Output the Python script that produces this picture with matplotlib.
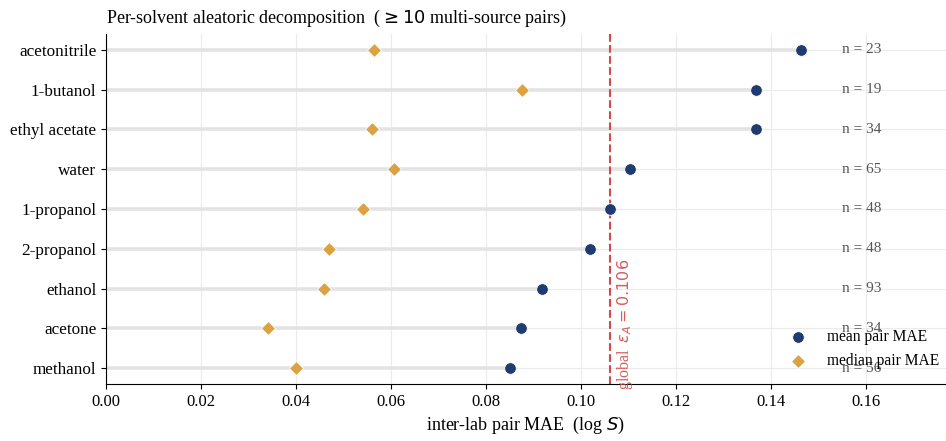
import matplotlib
matplotlib.use("Agg")
import matplotlib.pyplot as plt
import matplotlib.transforms as mtransforms

plt.rcParams["font.family"] = ["Liberation Serif", "DejaVu Serif"]
plt.rcParams["mathtext.fontset"] = "dejavusans"

# data (top to bottom)
solvents = ["acetonitrile", "1-butanol", "ethyl acetate", "water", "1-propanol",
            "2-propanol", "ethanol", "acetone", "methanol"]
mean_mae = [0.1463, 0.1368, 0.1368, 0.1103, 0.1061, 0.1019, 0.0918, 0.0874, 0.0851]
median_mae = [0.0564, 0.0876, 0.0560, 0.0606, 0.0541, 0.0469, 0.0459, 0.0341, 0.0400]
n_pairs = [23, 19, 34, 65, 48, 48, 93, 34, 56]
global_eps = 0.106

navy = "#1f3b70"
gold = "#dba243"
red = "#d24a4a"

fig = plt.figure(figsize=(9.46, 4.41), dpi=100)
ax = fig.add_axes([106 / 946, 57 / 441, 840 / 946, 350 / 441])

ypos = list(range(len(solvents)))[::-1]

# stems from zero to the mean
ax.hlines(ypos, 0, mean_mae, color="#e3e3e3", lw=2.6, zorder=1)
ax.scatter(mean_mae, ypos, s=70, color=navy, marker="o", edgecolor="white",
           linewidth=0.6, zorder=3, label="mean pair MAE")
ax.scatter(median_mae, ypos, s=50, color=gold, marker="D", edgecolor="white",
           linewidth=0.6, zorder=3, label="median pair MAE")

ax.axvline(global_eps, color=red, ls="--", lw=1.5, zorder=2)
ax.text(global_eps + 0.0012, -0.55, r"global  $\varepsilon_A = 0.106$", rotation=90,
        color=red, fontsize=11.5, ha="left", va="bottom", alpha=0.9, clip_on=False)

trans = mtransforms.blended_transform_factory(ax.transAxes, ax.transData)
for y, n in zip(ypos, n_pairs):
    ax.text(0.876, y, f"n = {n}", transform=trans, color="#555555",
            fontsize=11, va="center", ha="left")

ax.set_yticks(ypos)
ax.set_yticklabels(solvents, fontsize=12.3)
ax.set_xlim(0, 0.1768)
ax.set_ylim(-0.4, 8.4)
ax.set_xticks([0.0, 0.02, 0.04, 0.06, 0.08, 0.10, 0.12, 0.14, 0.16])
ax.set_xticklabels([f"{v:.2f}" for v in ax.get_xticks()], fontsize=12)
ax.grid(True, color="#ebebeb", lw=0.8, zorder=0)
ax.set_axisbelow(True)

for side in ["top", "right"]:
    ax.spines[side].set_visible(False)

ax.set_xlabel(r"inter-lab pair MAE  (log $S$)", fontsize=13)
ax.set_title(r"Per-solvent aleatoric decomposition  ($\geq 10$ multi-source pairs)",
             loc="left", fontsize=13, pad=8)

ax.legend(loc="lower right", bbox_to_anchor=(1.005, 0.012), frameon=False,
          fontsize=11.2, handletextpad=0.9, borderaxespad=0.3)

fig.savefig("out.png", dpi=100)
